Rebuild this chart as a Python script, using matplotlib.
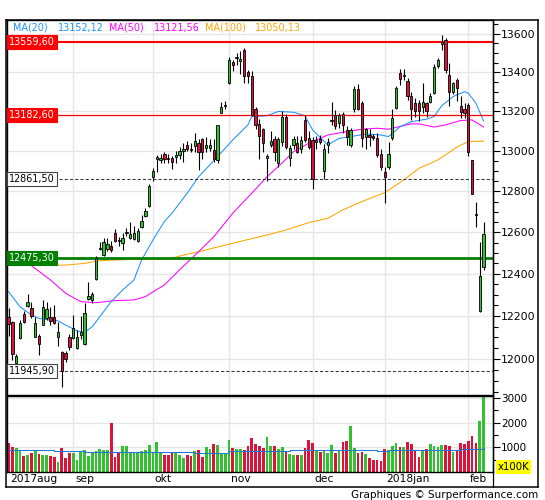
import matplotlib
matplotlib.use("Agg")
import matplotlib.pyplot as plt
from matplotlib.lines import Line2D
from matplotlib.ticker import FixedLocator, FuncFormatter, NullFormatter
from matplotlib.transforms import blended_transform_factory as blend

# ---------------- data ----------------
month_labels = ['2017aug', 'sep', 'okt', 'nov', 'dec', '2018jan', 'feb']
month_start = [0, 17, 38, 58, 80, 99, 121]

opens = [12195, 12171, 11981, 12097, 12209, 12247, 12238, 12102, 12107, 12158,
         12191, 12195, 12195, 12102, 12032, 12028, 12103, 12097, 12051, 12112,
         12069, 12280, 12276, 12376, 12520, 12488, 12520, 12532, 12596, 12565,
         12550, 12598, 12574, 12567, 12557, 12627, 12681, 12726, 12872, 12960,
         12956, 12986, 12968, 12965, 12970, 12983, 13003, 13030, 13008, 13024,
         13040, 13060, 13016, 13016, 13005, 12956, 13190, 13228, 13344, 13455,
         13475, 13460, 13516, 13400, 13382, 13214, 13137, 13110, 12966, 13030,
         13060, 12940, 13047, 13172, 12966, 13030, 13040, 13012, 13157, 13064,
         13056, 13046, 13060, 12900, 13030, 13150, 13180, 13140, 13188, 13107,
         13031, 13210, 13314, 13245, 13070, 13080, 13078, 13068, 12986, 12897,
         12920, 13065, 13220, 13395, 13383, 13355, 13280, 13245, 13245, 13225,
         13245, 13247, 13296, 13433, 13545, 13568, 13385, 13300, 13360, 13228,
         13213, 13235, 12956, 12690, 12226, 12434]
highs = [12238, 12176, 12024, 12181, 12223, 12304, 12266, 12195, 12116, 12276,
         12266, 12243, 12252, 12172, 12037, 12037, 12117, 12205, 12135, 12200,
         12262, 12361, 12315, 12485, 12555, 12571, 12572, 12558, 12616, 12579,
         12595, 12623, 12652, 12630, 12622, 12685, 12716, 12838, 12916, 12980,
         12986, 12998, 12985, 12975, 13000, 13020, 13040, 13050, 13040, 13090,
         13060, 13068, 13070, 13060, 13060, 13130, 13250, 13255, 13478, 13465,
         13500, 13510, 13525, 13410, 13405, 13222, 13160, 13115, 12988, 13100,
         13075, 13070, 13200, 13185, 13032, 13075, 13075, 13075, 13180, 13100,
         13072, 13075, 13080, 13036, 13066, 13250, 13205, 13190, 13195, 13125,
         13115, 13330, 13340, 13255, 13115, 13110, 13085, 13090, 13010, 12920,
         13045, 13210, 13330, 13415, 13418, 13370, 13300, 13268, 13260, 13345,
         13250, 13294, 13445, 13473, 13596, 13578, 13450, 13350, 13370, 13280,
         13245, 13245, 12956, 12750, 12554, 12650]
lows = [12105, 11995, 11977, 12093, 12167, 12242, 12191, 12102, 12019, 12158,
        12181, 12158, 12162, 12060, 11871, 11986, 12042, 12093, 12046, 12095,
        12065, 12276, 12262, 12372, 12515, 12486, 12510, 12505, 12553, 12533,
        12514, 12580, 12567, 12562, 12554, 12620, 12676, 12724, 12850, 12898,
        12940, 12940, 12940, 12910, 12940, 12960, 12948, 13003, 12995, 12998,
        12905, 12960, 12996, 13000, 12945, 12940, 13190, 13210, 13340, 13405,
        13440, 13390, 13345, 13345, 13175, 13110, 12960, 12995, 12850, 13020,
        12950, 12920, 13025, 13010, 12925, 13010, 12990, 12990, 13045, 13010,
        12810, 13010, 13035, 12862, 12990, 13130, 13110, 13115, 13090, 13030,
        13020, 13195, 13205, 13020, 13010, 13025, 13055, 12970, 12905, 12745,
        12910, 13055, 13210, 13335, 13360, 13258, 13155, 13172, 13150, 13190,
        13174, 13245, 13290, 13421, 13515, 13395, 13230, 13290, 13252, 13165,
        13165, 12975, 12785, 12625, 12220, 12420]
closes = [12162, 12024, 12014, 12167, 12172, 12266, 12200, 12167, 12069, 12243,
          12233, 12176, 12167, 12125, 11945.9, 12002, 12056, 12143, 12102, 12124,
          12214, 12296, 12303, 12475.3, 12524, 12552, 12543, 12515, 12559, 12558,
          12574, 12601, 12592, 12595, 12605, 12657, 12704, 12829, 12902, 12970,
          12968, 12960, 12962, 12948, 12981, 13000, 13010, 13013, 13007, 13050,
          12995, 12995, 13032, 13030, 12960, 13130, 13222, 13230, 13465, 13440,
          13478, 13468, 13382, 13383, 13182.6, 13130, 13075, 13040, 12978, 13050,
          12995, 13060, 13172, 13020, 13016, 13060, 12998, 13058, 13056, 13022,
          12861.5, 13058, 13048, 13010, 13045, 13155, 13125, 13180, 13132, 13070,
          13107, 13314, 13214, 13068, 13110, 13073, 13068, 12980, 12920, 12872,
          12986, 13165, 13320, 13365, 13386, 13280, 13210, 13200, 13200, 13250,
          13200, 13280, 13428, 13464, 13559.6, 13414, 13300, 13345, 13322, 13197,
          13190, 12998, 12785, 12685, 12390, 12590]
volumes = [1180, 1020, 960, 830, 660, 690, 760, 900, 740, 700, 700, 660, 610, 400, 960, 560, 770, 780,
           480, 830, 900, 650, 800, 860, 920, 870, 880, 1970, 600, 780, 1050, 1050, 800, 800, 800, 830, 880, 1080,
           820, 1230, 800, 700, 700, 800, 800, 700, 560, 700, 650, 830, 880, 600, 1000, 950, 1130, 1100, 750, 760,
           1280, 960, 920, 920, 880, 1050, 1380, 1150, 1060, 970, 1400, 1050, 1050, 930, 1000, 850, 740, 680, 700, 700, 960, 1280,
           1180, 880, 820, 880, 780, 1100, 750, 850, 1220, 1270, 1880, 960, 780, 820, 730, 560, 490, 480, 440,
           920, 870, 1050, 1180, 1010, 1000, 1220, 1130, 900, 600, 880, 950, 1130, 1050, 1000, 1100, 1100, 1050, 800, 840, 1180, 1150,
           1270, 1440, 1180, 2080, 3100]
vol_ma_idx = [0, 12, 20, 49, 58, 74, 80, 97, 100, 119, 125]
vol_ma_val = [910, 860, 815, 770, 830, 880, 910, 850, 905, 940, 990]

ma20_idx = [0, 3, 6, 8, 11, 13, 15, 18, 20, 22, 24, 27, 30, 33, 35, 38, 41, 43, 47, 50, 55, 59, 63, 64,
            68, 71, 75, 78, 80, 84, 87, 91, 94, 98, 100, 103, 106, 110, 112, 114, 117, 120, 121, 123, 125]
ma20_val = [12315, 12244, 12205, 12189, 12181, 12178, 12158, 12131, 12124, 12150, 12197, 12268, 12323,
            12371, 12466, 12563, 12652, 12693, 12791, 12872, 12972, 13056, 13132, 13174, 13178, 13200,
            13196, 13178, 13107, 13031, 13064, 13076, 13086, 13081, 13073, 13122, 13148, 13161, 13174,
            13229, 13276, 13301, 13293, 13242, 13152.12]
ma50_idx = [5, 11, 15, 19, 23, 28, 33, 36, 41, 45, 50, 54, 59, 64, 68, 72, 75, 79, 84, 89, 93, 97,
            100, 103, 106, 108, 112, 115, 119, 122, 125]
ma50_val = [12453, 12371, 12308, 12268, 12263, 12273, 12276, 12292, 12347, 12419, 12506, 12578, 12693,
            12791, 12872, 12941, 12997, 13039, 13081, 13098, 13110, 13115, 13110, 13124, 13137, 13137,
            13121, 13132, 13154, 13157, 13121.56]
ma100_idx = [0, 3, 7, 11, 15, 20, 24, 33, 42, 46, 50, 59, 68, 73, 79, 84, 88, 92, 99, 104, 108, 113,
             118, 121, 125]
ma100_val = [12450, 12450, 12442, 12441, 12442, 12450, 12463, 12470, 12470, 12490, 12506, 12547, 12587,
             12611, 12647, 12668, 12709, 12742, 12794, 12856, 12914, 12956, 13020, 13048, 13050.13]

legend_items = [('MA(20)', '13152,12', '#1e90ff'),
                ('MA(50)', '13121,56', '#ff00ff'),
                ('MA(100)', '13050,13', '#ffa500')]
ref_levels = [13559.6, 13182.6, 12861.5, 12475.3, 11945.9]
ref_texts = ['13559,60', '13182,60', '12861,50', '12475,30', '11945,90']

price_ticks = list(range(12000, 13601, 200))
vol_ticks = [1000, 2000, 3000]

# ---------------- styling ----------------
W, H = 545, 500
def fx(p): return p / W
def fy(p): return 1 - p / H

GREEN = '#33c133'
RED = '#dc143c'
GRID = '#e6e6e6'

plt.rcParams['font.family'] = ['DejaVu Sans']
fig = plt.figure(figsize=(W / 100, H / 100), dpi=100)
fig.patch.set_facecolor('white')

ax = fig.add_axes([fx(7), fy(395), (493 - 7) / W, (395 - 20) / H])
axv = fig.add_axes([fx(7), fy(472), (493 - 7) / W, (472 - 396) / H])

n = len(closes)
idx = list(range(n))
XL = (-0.42, 127.5)

# main panel
ax.set_yscale('log')
ax.set_xlim(*XL)
ax.set_ylim(11835, 13673)
ax.yaxis.set_major_locator(FixedLocator(price_ticks))
ax.yaxis.set_minor_locator(FixedLocator(list(range(11850, 13651, 50))))
ax.yaxis.set_major_formatter(FuncFormatter(lambda v, p: f"{int(round(v))}"))
ax.yaxis.set_minor_formatter(NullFormatter())
ax.yaxis.tick_right()
ax.tick_params(axis='y', which='major', length=5, width=0.8, labelsize=7.8, pad=0.8)
ax.tick_params(axis='y', which='minor', length=3.5, width=0.8)
ax.set_xticks(month_start[1:])
ax.tick_params(axis='x', length=0, labelbottom=False)
ax.grid(True, which='major', color=GRID, lw=1, zorder=0)
ax.set_axisbelow(True)
for s in ax.spines.values():
    s.set_color('black'); s.set_linewidth(1.0)

# MAs
ax.plot(ma100_idx, ma100_val, color='#ffa500', lw=0.75, zorder=2)
ax.plot(ma50_idx, ma50_val, color='#ff00ff', lw=0.75, zorder=2)
ax.plot(ma20_idx, ma20_val, color='#1e90ff', lw=0.75, zorder=2)

# reference lines
ax.axhline(ref_levels[0], color='#ff0000', lw=1.5, zorder=2.5)
ax.axhline(ref_levels[1], color='#ff0000', lw=0.9, zorder=2.5)
ax.axhline(ref_levels[2], color='#333333', lw=0.75, ls=(0, (3, 2)), zorder=2.5)
ax.axhline(ref_levels[3], color='#008000', lw=2.0, zorder=2.5)
ax.axhline(ref_levels[4], color='#333333', lw=0.75, ls=(0, (3, 2)), zorder=2.5)

# candles
up = [c >= o for o, c in zip(opens, closes)]
ccol = [GREEN if u else RED for u in up]
ax.vlines(idx, lows, highs, color='black', lw=0.8, zorder=3)
bottoms = [min(o, c) for o, c in zip(opens, closes)]
heights = [max(abs(c - o), 2.5) for o, c in zip(opens, closes)]
ax.bar(idx, heights, bottom=bottoms, width=0.6, color=ccol, edgecolor='black',
       linewidth=0.6, zorder=3.1)

# level label boxes
tr = blend(ax.transAxes, ax.transData)
box_styles = [('white', '#ff0000', '#ff0000'),
              ('white', '#ff0000', '#ff0000'),
              ('black', 'white', '#444444'),
              ('white', '#008000', '#008000'),
              ('black', 'white', '#444444')]
for lvl, txt, (tc, fc, ec) in zip(ref_levels, ref_texts, box_styles):
    ax.text(0.0045, lvl, txt, transform=tr, fontsize=6.9, color=tc, ha='left', va='center',
            zorder=6, bbox=dict(boxstyle='square,pad=0.2', fc=fc, ec=ec, lw=0.8))

# volume panel
axv.set_xlim(*XL)
axv.set_ylim(0, 3075)
vcol = [GREEN if u else RED for u in up]
axv.bar(idx, volumes, width=0.72, color=vcol, linewidth=0, zorder=2)
axv.plot(vol_ma_idx, vol_ma_val, color='#1e78d8', lw=0.75, drawstyle='steps-post', zorder=3)
axv.yaxis.tick_right()
axv.yaxis.set_major_locator(FixedLocator(vol_ticks))
axv.yaxis.set_minor_locator(FixedLocator([500, 1500, 2500]))
axv.yaxis.set_major_formatter(FuncFormatter(lambda v, p: f"{int(v)}"))
axv.tick_params(axis='y', which='major', length=5, width=0.8, labelsize=7.5, pad=0.8)
axv.tick_params(axis='y', which='minor', length=3.5, width=0.8)
axv.set_xticks(month_start[1:])
axv.tick_params(axis='x', length=0, labelbottom=False)
axv.grid(True, which='major', color=GRID, lw=1, zorder=0)
axv.set_axisbelow(True)
for s in axv.spines.values():
    s.set_color('black'); s.set_linewidth(1.0)

trv = blend(axv.transData, axv.transAxes)
for m, lab in zip(month_start, month_labels):
    axv.text(m + 0.5, -(479.5 - 472) / 76, lab, transform=trv, fontsize=7.7,
             ha='left', va='center', clip_on=False)

fig.text(fx(497.5), fy(467), 'x100K', fontsize=7.3, ha='left', va='center',
         bbox=dict(boxstyle='square,pad=0.15', fc='#ffff00', ec='none'))

# legend
legend_x = [(12.5, 57.5), (109, 154), (204.5, 255)]
for (name, val, col), (x1, x2) in zip(legend_items, legend_x):
    fig.text(fx(x1), fy(28), name, color=col, fontsize=6.9, ha='left', va='center')
    fig.text(fx(x2), fy(28), val, color=col, fontsize=6.9, ha='left', va='center')

# outer frame
def fline(x0, y0, x1, y1, lw=1.1):
    fig.add_artist(Line2D([fx(x0), fx(x1)], [fy(y0), fy(y1)], color='black', lw=lw))
fline(6, 20, 538, 20)
fline(6, 487, 538, 487)
fline(6, 20, 6, 487)
fline(538, 20, 538, 487)
fline(493, 20, 493, 487, lw=0.9)

fig.text(fx(538), fy(495.5), 'Graphiques \u00a9 Surperformance.com', fontsize=7.5,
         ha='right', va='center')

fig.savefig('out.png', dpi=100)
